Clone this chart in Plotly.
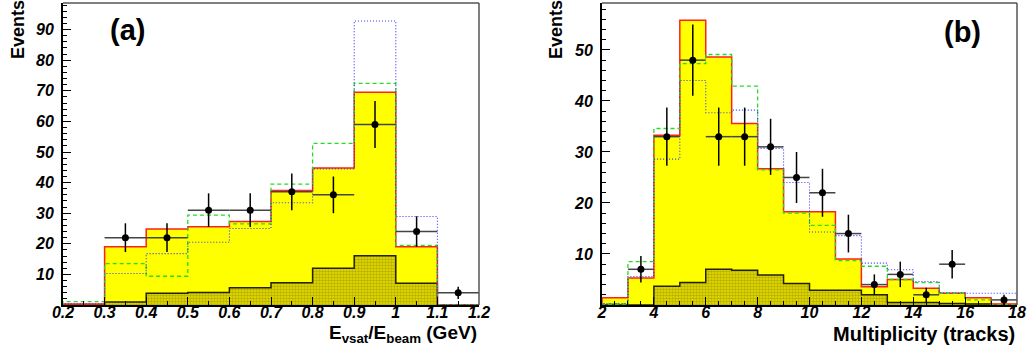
import plotly.graph_objects as go
import numpy as np

# ---------------- Panel (a): E_vsat / E_beam ----------------
a_edges = [0.2, 0.3, 0.4, 0.5, 0.6, 0.7, 0.8, 0.9, 1.0, 1.1, 1.2]
a_total = [0.3, 19, 24.8, 25.6, 27.3, 37.4, 44.8, 69.5, 19, 0]
a_bkg = [0, 1, 3.8, 4.1, 5.6, 7.3, 12, 16.1, 7.1, 0]
a_green = [1.1, 13.5, 9.4, 29.4, 26.5, 39.5, 52.8, 72.4, 19.5, 0]
a_blue = [0.4, 10.3, 16.8, 20.5, 25, 33.4, 44.5, 92.8, 28.9, 0]
a_data_x = [0.35, 0.45, 0.55, 0.65, 0.75, 0.85, 0.95, 1.05, 1.15]
a_data_y = [22, 22, 31, 31, 37, 36, 59, 24, 4]
a_data_err = [4.7, 4.7, 5.5, 5.5, 6, 6, 7.7, 5, 2]
a_xticks = [0.2, 0.3, 0.4, 0.5, 0.6, 0.7, 0.8, 0.9, 1.0, 1.1, 1.2]
a_xticktext = ["0.2", "0.3", "0.4", "0.5", "0.6", "0.7", "0.8", "0.9", "1", "1.1", "1.2"]
a_yticks = [10, 20, 30, 40, 50, 60, 70, 80, 90]

# ---------------- Panel (b): Multiplicity ----------------
b_edges = list(range(2, 19))
b_total = [1.4, 5.3, 33.3, 55.8, 48.6, 35.6, 26.7, 18.3, 18.3, 9, 3.6, 5, 3.3, 2.3, 1.4, 0.2]
b_bkg = [0, 0, 3.7, 4.4, 7, 6.8, 5.9, 4.2, 2.9, 2.9, 2, 0.5, 0.5, 0.3, 0.2, 0]
b_green = [0.2, 8.5, 34.6, 47.3, 49.1, 42.9, 26.5, 18, 15.6, 8.7, 7.6, 5, 4.4, 2.3, 1, 0]
b_blue = [0.3, 5.6, 28.6, 44, 37.7, 38.2, 30.7, 24, 14.3, 13.6, 8.2, 6.9, 4.6, 2.4, 2.3, 2.3]
b_data_x = [3.5, 4.5, 5.5, 6.5, 7.5, 8.5, 9.5, 10.5, 11.5, 12.5, 13.5, 14.5, 15.5, 17.5]
b_data_y = [7, 33, 48, 33, 33, 31, 25, 22, 14, 4, 6, 2, 8, 1]
b_data_err = [2.6, 5.7, 7, 5.7, 5.7, 5.5, 5, 4.7, 3.7, 2, 2.5, 1.4, 2.8, 1]
b_xticks = [2, 4, 6, 8, 10, 12, 14, 16, 18]
b_yticks = [10, 20, 30, 40, 50]

YELLOW = "#ffff00"
RED = "#ff2020"
GREEN = "#22dd22"
BLUE = "#3333ff"

fig = go.Figure()


def step(edges, vals):
    xs = [edges[0]] + list(edges) + [edges[-1]]
    ys = [0] + list(vals) + [vals[-1], 0]
    return xs, ys


def add_panel(edges, total, bkg, green, blue, dx, dy, derr, xa, ya):
    edges = np.array(edges, dtype=float)
    centers = (edges[:-1] + edges[1:]) / 2
    widths = edges[1:] - edges[:-1]
    fig.add_trace(go.Bar(x=centers, y=total, width=widths, marker=dict(color=YELLOW, line=dict(width=0)),
                         xaxis=xa, yaxis=ya, showlegend=False))
    fig.add_trace(go.Bar(x=centers, y=bkg, width=widths,
                         marker=dict(color=YELLOW, line=dict(width=0),
                                     pattern=dict(shape=".", fgcolor="#8a8200", bgcolor="#e6de00",
                                                  size=3, solidity=0.55)),
                         xaxis=xa, yaxis=ya, showlegend=False))
    sx, sy = step(edges, bkg)
    fig.add_trace(go.Scatter(x=sx, y=sy, mode="lines", line=dict(color="#222200", width=1.5, shape="hv"),
                             xaxis=xa, yaxis=ya, showlegend=False))
    sx, sy = step(edges, total)
    fig.add_trace(go.Scatter(x=sx, y=sy, mode="lines", line=dict(color=RED, width=1.5, shape="hv"),
                             xaxis=xa, yaxis=ya, showlegend=False))
    sx, sy = step(edges, green)
    fig.add_trace(go.Scatter(x=sx, y=sy, mode="lines",
                             line=dict(color=GREEN, width=1.3, dash="4px,3px", shape="hv"),
                             xaxis=xa, yaxis=ya, showlegend=False))
    sx, sy = step(edges, blue)
    fig.add_trace(go.Scatter(x=sx, y=sy, mode="lines",
                             line=dict(color=BLUE, width=1.1, dash="1px,2px", shape="hv"),
                             xaxis=xa, yaxis=ya, showlegend=False))
    halfw = float(widths[0]) / 2
    fig.add_trace(go.Scatter(x=dx, y=dy, mode="markers",
                             marker=dict(color="black", size=7),
                             error_y=dict(type="data", array=derr, color="black", thickness=1.5, width=0),
                             error_x=dict(type="constant", value=halfw, color="#444444", thickness=1.5, width=0),
                             xaxis=xa, yaxis=ya, showlegend=False))


add_panel(a_edges, a_total, a_bkg, a_green, a_blue, a_data_x, a_data_y, a_data_err, "x", "y")
add_panel(b_edges, b_total, b_bkg, b_green, b_blue, b_data_x, b_data_y, b_data_err, "x2", "y2")

tickfont = dict(family="Liberation Sans, Arial", size=16, color="black", weight="bold", style="italic")
ydom = [42 / 347, 344 / 347]

common = dict(showline=True, linecolor="black", linewidth=2, mirror=False, ticks="inside", ticklen=8,
              tickwidth=1.2, tickcolor="black", showgrid=False, zeroline=False, tickfont=tickfont,
              automargin=False)

fig.update_layout(
    width=1031, height=347,
    margin=dict(l=0, r=0, t=0, b=0, pad=0, autoexpand=False),
    paper_bgcolor="white", plot_bgcolor="white",
    barmode="overlay", bargap=0,
    xaxis=dict(domain=[63 / 1031, 479 / 1031], range=[0.2, 1.2], tickvals=a_xticks, ticktext=a_xticktext,
               ticklabelstandoff=-8,
               minor=dict(dtick=0.05, ticks="inside", ticklen=4, tickcolor="black"), anchor="y", **common),
    yaxis=dict(domain=ydom, range=[0, 98.7], tickvals=a_yticks, ticklabelstandoff=4,
               minor=dict(dtick=2, ticks="inside", ticklen=4, tickcolor="black"), anchor="x", **common),
    xaxis2=dict(domain=[602 / 1031, 1017 / 1031], range=[2, 18], tickvals=b_xticks,
                ticklabelstandoff=-8,
                minor=dict(dtick=0.5, ticks="inside", ticklen=4, tickcolor="black"), anchor="y2", **common),
    yaxis2=dict(domain=ydom, range=[0, 59.2], tickvals=b_yticks, ticklabelstandoff=4,
                minor=dict(dtick=2, ticks="inside", ticklen=4, tickcolor="black"), anchor="x2", **common),
)

# top/right thin gray frame lines
for xd in ([63 / 1031, 479 / 1031], [602 / 1031, 1017 / 1031]):
    fig.add_shape(type="line", xref="paper", yref="paper", x0=xd[0], x1=xd[1], y0=ydom[1], y1=ydom[1],
                  line=dict(color="#555555", width=1.5))
    fig.add_shape(type="line", xref="paper", yref="paper", x0=xd[1], x1=xd[1], y0=ydom[0], y1=ydom[1],
                  line=dict(color="#555555", width=1.5))

lab = dict(family="Liberation Sans, Arial", color="black")
ann = dict(xref="paper", yref="paper", showarrow=False, yanchor="middle")
fig.add_annotation(text="Events", x=18 / 1031, y=1 - 30 / 347, xanchor="center",
                   textangle=-90, font=dict(size=18, weight=600, **lab), **ann)
fig.add_annotation(text="Events", x=556 / 1031, y=1 - 30 / 347, xanchor="center",
                   textangle=-90, font=dict(size=18, weight=600, **lab), **ann)
fig.add_annotation(text="<b>(a)</b>", x=127 / 1031, y=1 - 30 / 347, xanchor="center",
                   font=dict(size=29, **lab), **ann)
fig.add_annotation(text="<b>(b)</b>", x=962 / 1031, y=1 - 32 / 347, xanchor="center",
                   font=dict(size=29, **lab), **ann)
fig.add_annotation(text="<b>E<sub>vsat</sub>/E<sub>beam</sub> (GeV)</b>", x=479 / 1031, y=1 - 334 / 347,
                   xanchor="right", font=dict(size=19, **lab), **ann)
fig.add_annotation(text="<b>Multiplicity (tracks)</b>", x=1017 / 1031, y=1 - 334 / 347,
                   xanchor="right", font=dict(size=20, **lab), **ann)

fig.write_html("out.html", config={"displayModeBar": False},
               post_script="document.body.style.margin='0';document.body.style.overflow='hidden';")
